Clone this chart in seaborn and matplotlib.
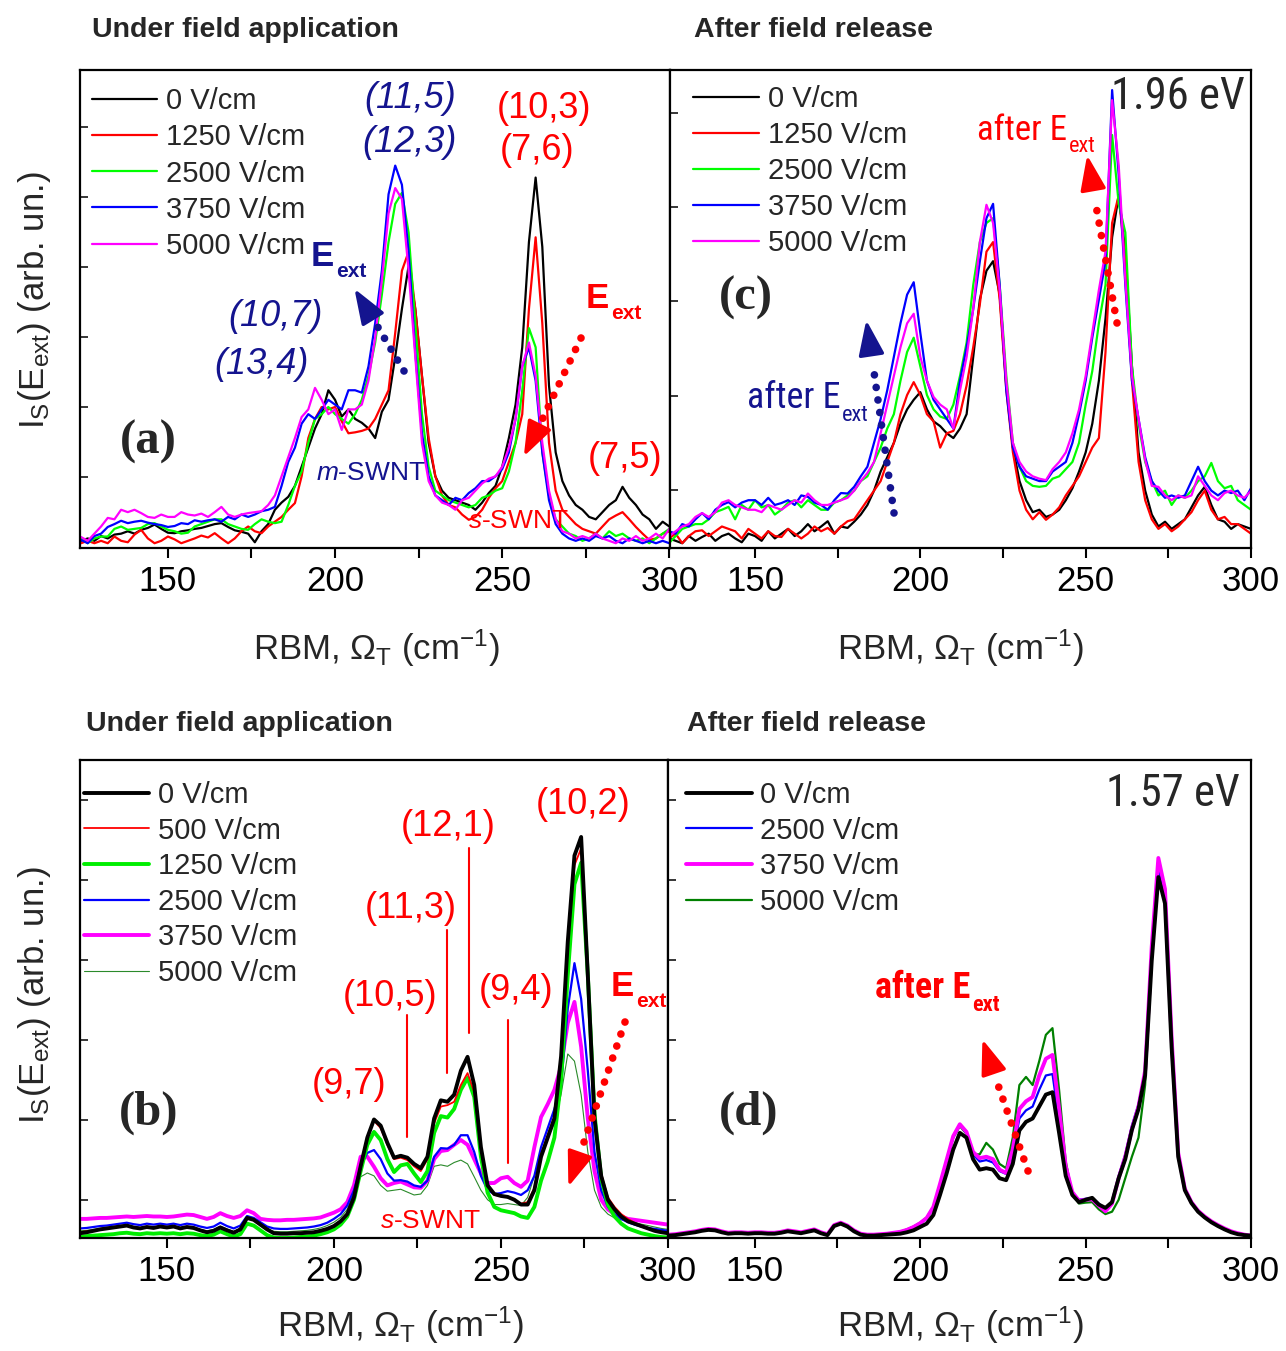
import os
import numpy as np
import pandas as pd
import matplotlib
matplotlib.use("Agg")
import matplotlib.pyplot as plt
import seaborn as sns
from matplotlib.lines import Line2D
from matplotlib.patches import Polygon
from matplotlib import font_manager as fm

# ---------------- data ----------------
X = np.arange(124, 301, 2)  # Raman shift sampling (cm^-1)

# (a) under field, 1.96 eV
A_0 = [1.5, 2.0, 1.5, 2.5, 2.0, 2.8, 3.0, 3.5, 3.0, 3.8, 4.2, 4.9, 4.0, 3.2, 3.1, 3.5, 3.7, 4.0, 4.2, 4.6,
       5.0, 5.2, 4.4, 3.7, 3.4, 3.0, 1.2, 3.5, 5.0, 8.0, 9.5, 10.7, 13.0, 17.0, 21.0, 25.0, 28.0, 33.0, 31.0, 27.5,
       29.0, 27.0, 26.2, 25.0, 23.0, 28.5, 31.0, 40.0, 50.0, 59.0, 50.0, 36.0, 22.0, 15.0, 12.0, 10.5, 10.0, 9.5, 9.0, 8.0,
       9.5, 11.5, 13.0, 17.0, 23.0, 30.0, 42.0, 64.0, 77.5, 63.0, 34.0, 20.0, 14.0, 11.0, 9.0, 8.0, 6.5, 6.0, 7.5, 9.0,
       10.0, 12.8, 10.5, 9.0, 7.0, 6.0, 4.0, 5.5, 4.5]
A_1250 = [1.0, 1.5, 1.0, 1.5, 1.0, 2.4, 1.5, 1.2, 2.8, 3.8, 2.0, 1.0, 1.5, 2.4, 1.8, 1.0, 1.5, 2.0, 2.6, 2.2,
          3.1, 2.0, 1.0, 2.0, 3.5, 4.5, 3.5, 3.1, 4.5, 5.5, 6.5, 8.0, 9.4, 15.0, 23.0, 27.0, 29.5, 29.0, 29.5, 26.5,
          24.0, 24.2, 24.5, 25.0, 27.0, 30.0, 33.0, 45.0, 58.0, 62.0, 50.0, 36.0, 23.0, 15.0, 11.0, 9.0, 8.5, 7.0, 5.9, 6.5,
          8.0, 10.5, 12.5, 14.0, 18.0, 22.0, 28.0, 50.0, 65.0, 47.0, 22.0, 12.0, 8.0, 6.5, 5.0, 4.0, 3.5, 3.0, 4.5, 6.0,
          6.8, 7.5, 6.0, 4.4, 3.0, 1.7, 2.0, 3.0, 3.5]
A_2500 = [2.0, 1.0, 2.0, 2.4, 2.4, 4.0, 4.5, 3.8, 4.0, 4.2, 5.0, 5.2, 4.5, 3.8, 3.5, 3.0, 3.2, 4.5, 5.0, 5.5,
          6.0, 6.0, 5.0, 4.5, 4.0, 3.8, 5.0, 6.0, 5.5, 5.2, 5.5, 9.0, 13.0, 16.0, 22.0, 27.0, 28.0, 29.5, 28.0, 27.0,
          26.0, 28.0, 31.0, 36.0, 43.0, 53.0, 64.0, 72.0, 74.3, 66.0, 47.0, 28.0, 17.0, 12.0, 11.0, 10.0, 9.5, 9.0, 8.5, 9.0,
          10.5, 11.0, 12.0, 12.5, 16.0, 22.0, 33.0, 46.0, 42.0, 20.0, 11.0, 6.0, 4.5, 3.0, 2.5, 1.5, 2.0, 3.0, 2.0, 3.5,
          2.5, 3.0, 2.0, 1.5, 2.0, 1.0, 2.0, 3.0, 4.0]
A_3750 = [1.7, 1.0, 2.5, 3.0, 4.4, 5.0, 5.7, 5.2, 5.5, 5.7, 5.3, 5.0, 4.8, 4.4, 4.6, 5.2, 5.0, 5.8, 5.5, 5.8,
          6.0, 5.5, 6.5, 6.0, 7.0, 6.5, 7.0, 7.7, 8.0, 8.6, 13.0, 18.0, 21.0, 26.0, 28.0, 27.0, 29.0, 31.0, 30.0, 29.0,
          33.0, 33.0, 32.5, 38.0, 47.0, 58.0, 74.0, 80.0, 76.0, 62.0, 41.0, 24.0, 15.0, 11.0, 10.0, 9.0, 10.5, 10.0, 11.5, 12.5,
          14.0, 14.0, 15.0, 16.5, 20.0, 27.0, 38.0, 42.0, 35.0, 20.0, 10.0, 5.0, 3.0, 2.0, 1.5, 2.0, 1.5, 2.5, 2.0, 2.5,
          1.5, 1.0, 2.0, 1.5, 1.0, 1.5, 1.0, 1.5, 1.0]
A_5000 = [2.3, 1.5, 3.0, 4.5, 6.3, 6.0, 8.0, 7.5, 8.0, 7.3, 6.5, 6.3, 7.0, 6.5, 6.5, 7.5, 7.0, 6.8, 7.2, 6.5,
          7.5, 8.6, 7.0, 6.5, 7.0, 7.3, 7.5, 7.7, 9.0, 11.0, 15.0, 19.0, 23.0, 27.4, 29.0, 33.5, 31.0, 28.0, 29.0, 24.7,
          29.0, 29.0, 30.0, 35.0, 44.0, 56.0, 70.0, 75.3, 73.0, 58.0, 40.0, 22.0, 14.0, 11.0, 9.5, 9.0, 8.0, 10.0, 10.5, 12.0,
          13.5, 14.5, 15.0, 17.0, 21.0, 27.0, 38.0, 43.0, 36.0, 22.0, 12.0, 6.0, 3.5, 3.0, 2.0, 2.5, 2.0, 3.0, 2.0, 1.5,
          1.0, 2.0, 1.5, 2.5, 1.5, 2.0, 3.0, 2.0, 4.0]

# (c) after field release, 1.96 eV
C_0 = [2.0, 1.5, 1.0, 2.5, 1.5, 2.3, 3.0, 1.5, 2.5, 3.0, 2.0, 1.2, 3.0, 2.5, 1.5, 3.5, 2.0, 3.0, 4.0, 2.5,
       3.5, 5.0, 3.5, 4.5, 5.6, 3.0, 4.5, 4.2, 5.5, 7.0, 9.0, 12.0, 16.0, 19.0, 22.0, 26.0, 29.0, 31.0, 32.6, 29.0,
       26.5, 25.5, 24.0, 23.0, 25.0, 28.0, 40.0, 52.0, 58.0, 60.0, 53.0, 34.0, 21.0, 14.0, 10.0, 7.5, 8.0, 6.5, 7.0, 8.0,
       10.0, 12.5, 16.0, 20.0, 26.0, 35.0, 48.0, 65.0, 73.8, 62.0, 38.0, 20.0, 12.0, 7.0, 4.5, 5.5, 4.0, 5.0, 6.0, 8.5,
       11.0, 12.8, 9.0, 6.0, 5.5, 4.0, 5.0, 4.5, 4.0]
C_1250 = [2.0, 3.0, 1.0, 2.5, 3.5, 3.7, 2.5, 3.5, 4.5, 4.0, 3.5, 2.0, 4.0, 3.0, 2.0, 3.5, 2.5, 2.3, 4.0, 3.0,
          2.0, 3.0, 4.5, 3.5, 4.2, 3.0, 4.5, 5.6, 6.0, 8.0, 10.0, 12.0, 14.0, 18.0, 22.0, 28.0, 32.0, 34.7, 32.0, 28.0,
          26.5, 21.0, 24.0, 24.5, 28.0, 34.0, 42.0, 51.0, 62.0, 64.0, 52.0, 33.0, 20.0, 12.0, 8.0, 6.0, 7.5, 5.9, 7.0, 8.5,
          11.0, 13.0, 15.0, 18.0, 21.0, 23.0, 41.0, 68.0, 73.8, 60.0, 35.0, 18.0, 10.0, 6.0, 4.0, 5.0, 3.5, 4.5, 6.0, 7.5,
          10.0, 12.0, 8.0, 6.0, 6.5, 5.0, 5.0, 4.0, 3.0]
C_2500 = [1.0, 2.5, 4.0, 4.5, 5.0, 5.0, 6.0, 7.5, 8.0, 8.6, 6.0, 9.0, 8.0, 10.0, 8.5, 9.0, 7.0, 8.0, 9.5, 10.0,
          8.5, 10.0, 9.0, 8.0, 8.0, 9.5, 10.0, 11.0, 12.0, 14.0, 15.0, 18.0, 21.0, 25.0, 28.0, 35.0, 41.0, 44.0, 38.0, 32.0,
          29.0, 27.5, 27.0, 30.0, 36.0, 43.0, 55.0, 64.0, 68.0, 69.0, 55.0, 36.0, 22.0, 17.0, 14.0, 13.0, 12.8, 13.0, 14.5, 15.0,
          16.5, 18.0, 22.0, 30.0, 37.0, 47.0, 55.0, 86.4, 72.0, 66.0, 38.0, 26.0, 18.0, 14.0, 11.0, 12.0, 9.0, 11.0, 10.5, 12.0,
          14.0, 15.0, 17.8, 14.0, 12.5, 13.0, 10.0, 9.0, 8.0]
C_3750 = [3.5, 3.0, 5.0, 4.5, 6.0, 7.3, 6.0, 8.0, 9.0, 9.6, 8.5, 9.5, 10.0, 10.0, 9.0, 10.5, 9.0, 9.4, 10.0, 9.0,
          11.0, 10.7, 9.5, 9.0, 8.0, 10.0, 11.5, 11.4, 12.8, 15.0, 17.0, 22.0, 27.0, 33.0, 40.0, 47.0, 53.0, 55.6, 45.0, 35.0,
          31.0, 29.0, 27.0, 25.0, 35.0, 42.0, 50.0, 60.0, 69.0, 72.0, 55.0, 33.0, 21.0, 17.0, 15.0, 14.5, 14.0, 14.0, 16.0, 17.0,
          18.0, 22.0, 28.0, 35.0, 44.0, 52.0, 60.0, 95.8, 78.0, 55.0, 35.0, 27.0, 19.0, 14.0, 12.0, 10.5, 11.0, 10.5, 11.0, 14.0,
          17.0, 14.0, 12.0, 11.0, 12.0, 11.5, 12.0, 10.0, 12.5]
C_5000 = [2.5, 3.5, 4.5, 5.0, 6.5, 7.3, 6.5, 7.5, 9.5, 10.0, 9.0, 8.5, 8.0, 8.0, 7.5, 9.0, 8.5, 8.0, 9.0, 10.0,
          9.5, 11.4, 10.0, 9.0, 9.0, 9.5, 10.0, 10.5, 12.0, 14.0, 15.7, 18.0, 24.0, 30.0, 36.0, 42.0, 47.0, 49.0, 40.0, 35.0,
          31.6, 30.0, 29.0, 25.0, 33.0, 40.0, 50.0, 64.0, 71.8, 68.0, 54.0, 35.0, 22.0, 18.0, 16.0, 15.0, 14.5, 14.2, 16.5, 18.0,
          20.0, 24.0, 29.0, 36.0, 45.0, 54.0, 62.0, 93.7, 80.0, 56.0, 36.0, 27.0, 18.4, 13.0, 12.8, 11.0, 10.0, 11.0, 10.5, 11.0,
          15.0, 13.0, 11.0, 10.0, 11.5, 12.0, 11.0, 10.5, 12.0]

# (b) under field, 1.57 eV
B_0 = [1.0, 1.2, 1.5, 1.8, 2.0, 2.2, 2.4, 2.6, 2.2, 2.0, 2.3, 2.1, 2.4, 2.2, 2.4, 2.0, 2.3, 2.1, 1.6, 1.2,
       1.5, 2.2, 1.6, 1.1, 1.8, 4.2, 3.8, 2.8, 1.8, 1.0, 0.9, 0.9, 1.0, 1.0, 1.1, 1.2, 1.5, 1.9, 2.5, 3.5,
       5.0, 8.5, 15.0, 21.0, 24.8, 23.5, 19.9, 16.8, 17.2, 16.8, 15.5, 14.6, 17.0, 25.0, 28.8, 28.5, 30.0, 35.0, 37.9, 32.0,
       19.0, 11.0, 9.2, 8.8, 8.6, 8.0, 7.0, 7.0, 10.0, 17.0, 21.0, 25.0, 38.0, 62.0, 80.0, 83.9, 55.0, 25.0, 13.0, 8.0,
       6.0, 4.5, 3.5, 3.0, 2.5, 2.0, 1.5, 1.2, 1.0]
B_500 = [1.2, 1.4, 1.6, 1.9, 2.1, 2.3, 2.5, 2.7, 2.3, 2.1, 2.4, 2.2, 2.5, 2.3, 2.5, 2.1, 2.4, 2.2, 1.7, 1.3,
         1.6, 2.3, 1.7, 1.2, 1.9, 4.3, 3.9, 2.9, 1.9, 1.1, 1.0, 1.0, 1.1, 1.1, 1.2, 1.3, 1.6, 2.0, 2.6, 3.6,
         5.1, 8.6, 15.0, 21.0, 24.5, 23.0, 19.5, 16.5, 16.8, 16.3, 15.0, 14.0, 16.5, 24.0, 27.5, 27.8, 28.5, 32.0, 34.5, 30.5,
         18.5, 10.8, 9.0, 8.8, 8.5, 8.0, 7.2, 7.5, 10.5, 17.5, 21.5, 25.5, 38.5, 61.0, 78.0, 81.5, 55.0, 26.0, 13.5, 8.5,
         6.5, 5.0, 4.0, 3.2, 2.6, 2.1, 1.6, 1.3, 1.1]
B_1250 = [0.3, 0.4, 0.5, 0.6, 0.7, 0.8, 1.0, 1.1, 0.9, 0.8, 1.0, 0.9, 1.0, 0.9, 1.0, 0.8, 1.0, 0.9, 0.6, 0.4,
          0.7, 1.4, 0.8, 0.3, 0.8, 3.0, 2.6, 1.6, 0.6, 0.1, 0.0, 0.0, 0.1, 0.2, 0.3, 0.5, 0.8, 1.2, 1.8, 2.8,
          4.5, 8.0, 14.0, 19.5, 22.2, 20.5, 16.5, 13.8, 15.2, 15.5, 13.5, 11.7, 14.0, 22.0, 25.5, 25.2, 27.0, 31.0, 33.5, 29.5,
          17.0, 9.5, 6.5, 5.8, 5.5, 5.2, 4.5, 4.2, 6.5, 12.0, 16.0, 21.0, 33.0, 55.0, 74.0, 78.5, 55.0, 26.0, 12.5, 7.0,
          4.5, 3.0, 2.0, 1.5, 1.0, 0.7, 0.4, 0.2, 0.1]
B_2500 = [2.0, 2.1, 2.3, 2.5, 2.6, 2.8, 3.0, 3.2, 2.9, 2.7, 3.0, 2.8, 3.0, 2.8, 3.0, 2.7, 3.0, 2.8, 2.4, 2.1,
          2.4, 3.2, 2.5, 2.0, 2.6, 4.6, 4.2, 3.3, 2.4, 2.0, 1.9, 1.9, 2.0, 2.1, 2.2, 2.4, 2.7, 3.2, 4.0, 5.0,
          6.8, 10.0, 15.0, 17.8, 18.4, 16.5, 13.5, 12.0, 12.1, 11.8, 11.0, 10.7, 12.0, 17.0, 18.8, 18.7, 19.5, 21.5, 21.5, 18.0,
          13.0, 10.0, 9.2, 9.4, 9.8, 9.5, 9.0, 10.0, 13.0, 19.0, 23.0, 27.0, 32.0, 48.0, 57.5, 50.0, 35.0, 18.0, 10.0, 6.5,
          5.0, 4.0, 3.3, 2.8, 2.4, 2.1, 1.9, 1.7, 1.5]
B_3750 = [4.0, 4.0, 4.1, 4.2, 4.2, 4.3, 4.4, 4.5, 4.4, 4.5, 4.6, 4.5, 4.5, 4.4, 4.5, 4.7, 4.9, 4.8, 4.4, 4.0,
          4.4, 5.2, 4.6, 4.2, 4.6, 5.8, 5.2, 4.0, 3.8, 3.7, 3.7, 3.8, 3.8, 3.9, 4.0, 4.1, 4.3, 4.8, 5.3, 6.0,
          7.5, 11.0, 17.0, 17.0, 14.9, 12.5, 11.0, 11.5, 11.8, 11.2, 10.6, 10.5, 12.0, 16.5, 18.2, 18.4, 19.5, 20.5, 19.5, 16.5,
          13.5, 11.5, 11.5, 12.5, 12.8, 11.5, 10.7, 12.0, 19.0, 25.3, 28.0, 31.0, 36.0, 45.0, 49.4, 40.0, 25.0, 14.0, 8.0, 6.0,
          5.0, 4.5, 4.0, 3.8, 3.6, 3.4, 3.2, 3.0, 2.8]
B_5000 = [1.5, 1.6, 1.8, 2.0, 2.2, 2.3, 2.5, 2.6, 2.4, 2.2, 2.4, 2.3, 2.5, 2.3, 2.5, 2.2, 2.4, 2.3, 1.8, 1.5,
          1.8, 2.5, 1.9, 1.4, 2.0, 4.2, 3.8, 2.8, 1.9, 1.4, 1.3, 1.3, 1.4, 1.5, 1.6, 1.8, 2.1, 2.6, 3.3, 4.3,
          6.0, 9.5, 12.8, 13.6, 13.0, 11.0, 9.8, 10.0, 10.2, 9.6, 9.0, 9.2, 11.0, 15.0, 15.3, 15.0, 15.8, 16.3, 15.5, 12.8,
          10.0, 8.0, 7.0, 7.0, 7.2, 7.0, 6.8, 8.5, 13.0, 18.0, 21.0, 24.0, 30.0, 38.5, 37.0, 30.0, 18.0, 10.0, 6.5, 5.0,
          4.2, 3.8, 3.5, 3.2, 2.9, 2.6, 2.3, 2.0, 1.8]

# (d) after field release, 1.57 eV
D_0 = [0.5, 0.6, 0.8, 1.0, 1.2, 1.5, 1.7, 1.6, 1.2, 0.9, 1.0, 1.0, 0.9, 1.0, 1.0, 0.9, 0.9, 1.1, 1.4, 1.2,
       1.0, 1.3, 1.6, 1.0, 0.6, 2.5, 3.0, 2.4, 1.4, 0.7, 0.5, 0.5, 0.6, 0.7, 0.8, 0.9, 1.2, 1.6, 2.3, 3.0,
       4.8, 9.0, 13.5, 18.5, 22.0, 21.0, 16.5, 14.3, 14.6, 14.3, 12.5, 12.1, 15.5, 22.5, 24.3, 25.0, 27.5, 30.0, 30.5, 22.0,
       13.0, 9.0, 7.5, 8.0, 8.4, 7.0, 6.3, 7.5, 12.5, 16.5, 22.6, 27.0, 34.0, 58.0, 75.5, 70.0, 40.0, 17.0, 10.0, 7.3,
       5.5, 4.3, 3.3, 2.5, 1.8, 1.2, 0.8, 0.6, 0.5]
D_2500 = [0.6, 0.7, 0.9, 1.1, 1.3, 1.6, 1.8, 1.7, 1.3, 1.0, 1.1, 1.1, 1.0, 1.1, 1.1, 1.0, 1.0, 1.2, 1.5, 1.3,
          1.1, 1.4, 1.7, 1.1, 0.7, 2.6, 3.1, 2.5, 1.5, 0.8, 0.6, 0.6, 0.7, 0.8, 1.0, 1.2, 1.6, 2.2, 3.0, 4.0,
          6.3, 11.0, 16.0, 21.0, 23.6, 22.0, 17.5, 16.0, 16.3, 15.8, 14.0, 13.4, 17.5, 25.0, 26.7, 27.5, 31.0, 34.0, 34.3, 24.5,
          14.0, 9.5, 8.0, 8.2, 8.4, 7.2, 6.0, 7.6, 13.0, 17.5, 23.5, 28.0, 35.0, 60.0, 77.5, 72.0, 41.0, 17.5, 10.2, 7.4,
          5.6, 4.4, 3.4, 2.6, 1.9, 1.3, 0.9, 0.7, 0.5]
D_3750 = [0.7, 0.8, 1.0, 1.2, 1.4, 1.7, 1.9, 1.8, 1.4, 1.1, 1.2, 1.2, 1.1, 1.2, 1.2, 1.1, 1.1, 1.3, 1.6, 1.4,
          1.2, 1.5, 1.8, 1.2, 0.8, 2.7, 3.2, 2.6, 1.6, 0.9, 0.7, 0.7, 0.8, 0.9, 1.1, 1.3, 1.7, 2.3, 3.1, 4.2,
          6.5, 11.3, 16.3, 21.3, 23.8, 22.2, 18.0, 16.7, 17.0, 16.5, 14.3, 13.6, 18.5, 27.0, 28.6, 29.5, 34.0, 37.5, 38.3, 27.0,
          15.0, 9.6, 7.8, 8.0, 8.1, 6.8, 5.6, 7.2, 12.5, 17.0, 22.8, 27.5, 35.0, 61.0, 79.5, 73.0, 42.0, 17.8, 10.3, 7.5,
          5.7, 4.5, 3.5, 2.7, 2.0, 1.4, 1.0, 0.7, 0.5]
D_5000 = [0.6, 0.7, 0.9, 1.1, 1.3, 1.6, 1.8, 1.7, 1.3, 1.0, 1.1, 1.1, 1.0, 1.1, 1.1, 1.0, 1.0, 1.2, 1.5, 1.3,
          1.1, 1.4, 1.7, 1.1, 0.7, 2.6, 3.1, 2.5, 1.5, 0.8, 0.6, 0.6, 0.7, 0.8, 1.0, 1.3, 1.8, 2.4, 3.2, 4.3,
          6.5, 11.0, 16.0, 21.0, 23.4, 21.8, 17.5, 17.5, 19.9, 18.5, 15.5, 14.6, 21.0, 32.0, 33.7, 32.0, 37.0, 42.5, 43.9, 31.0,
          16.0, 9.2, 7.2, 7.4, 7.5, 6.0, 5.0, 5.5, 8.0, 12.5, 17.0, 21.0, 32.0, 58.0, 77.0, 71.0, 41.0, 17.5, 10.2, 7.4,
          5.6, 4.4, 3.4, 2.6, 1.9, 1.3, 0.9, 0.7, 0.5]

LABELS_A = ["0 V/cm", "1250 V/cm", "2500 V/cm", "3750 V/cm", "5000 V/cm"]
LABELS_B = ["0 V/cm", "500 V/cm", "1250 V/cm", "2500 V/cm", "3750 V/cm", "5000 V/cm"]
LABELS_D = ["0 V/cm", "2500 V/cm", "3750 V/cm", "5000 V/cm"]
XTICKS = [150, 200, 250, 300]
XMINOR = [175, 225, 275]
# assignment marker lines in (b): (shift, y_low, y_high)
ASSIGN_LINES_B = [(221.9, 21.1, 46.7), (233.8, 34.5, 64.4), (240.4, 42.9, 81.6), (252.2, 15.7, 45.6)]

for arr in [A_0, A_1250, A_2500, A_3750, A_5000, C_0, C_1250, C_2500, C_3750, C_5000,
            B_0, B_500, B_1250, B_2500, B_3750, B_5000, D_0, D_2500, D_3750, D_5000]:
    assert len(arr) == len(X), len(arr)

# ---------------- style ----------------
W, H = 1286, 1351
sns.set_theme(style="white")
plt.rcParams["font.family"] = ["Liberation Sans", "DejaVu Sans"]
plt.rcParams["mathtext.fontset"] = "custom"
plt.rcParams["mathtext.rm"] = "Liberation Sans"
plt.rcParams["mathtext.it"] = "Liberation Sans:italic"
plt.rcParams["mathtext.bf"] = "Liberation Sans:bold"
plt.rcParams["mathtext.sf"] = "Liberation Sans"
SERIF = ["Liberation Serif", "DejaVu Serif"]
NAVY = "#14148f"
RED = "#ff0000"


def _wt(f):
    w = f.weight
    if isinstance(w, str):
        w = fm.weight_dict.get(w, 400)
    return w


def find_narrow(bold=False):
    """Locate a condensed sans font (Arial-Narrow-like) if one is installed."""
    prefs = ["liberationsansnarrow", "robotocondensed", "dejavusanscondensed",
             "notosanscondensed", "opensanscondensed", "condensed", "narrow"]
    best, best_rank = None, 99
    for f in fm.fontManager.ttflist:
        base = os.path.basename(f.fname).lower().replace("-", "").replace("_", "")
        nm = f.name.lower().replace(" ", "")
        st = str(f.stretch).lower()
        cond = ("narrow" in base or "condensed" in base or "narrow" in nm or "condensed" in nm
                or st in ("condensed", "semi-condensed", "extra-condensed"))
        if not cond or "extracondensed" in base or "semicondensed" in base:
            continue
        if f.style != "normal" or "italic" in base or "oblique" in base:
            continue
        if bold != (_wt(f) >= 600):
            continue
        if not bold and _wt(f) < 350:
            continue
        key = base + nm
        rank = next((i for i, p in enumerate(prefs) if p in key), 98)
        if rank < best_rank:
            best, best_rank = f.fname, rank
    return best


NARROW_R = find_narrow(False)
NARROW_B = find_narrow(True) or NARROW_R


def narrow_fp(size, bold=False):
    path = NARROW_B if bold else NARROW_R
    if path:
        return fm.FontProperties(fname=path, size=size)
    # no condensed face available: plain sans, slightly smaller to keep width
    return fm.FontProperties(family=["Liberation Sans", "DejaVu Sans"], size=size * 0.84,
                             weight="bold" if bold else "normal")


fig = plt.figure(figsize=(W / 100, H / 100), dpi=100)


def add_ax(l, t, r, b):
    return fig.add_axes([l / W, 1 - b / H, (r - l) / W, (b - t) / H])


def ftext(px, py, s, **kw):
    kw.setdefault("va", "center")
    return fig.text(px / W, 1 - py / H, s, **kw)


def sub_after(ax, main, s, color, fp=None, **kw):
    """Subscript placed right after the main text artist."""
    if fp is not None:
        kw["fontproperties"] = fp
    ax.annotate(s, xy=(1.0, 0.02), xycoords=main, xytext=(1, 0), textcoords="offset points",
                ha="left", va="center", color=color, annotation_clip=False, **kw)


def dotted_arrow(start, end, tip, color, head_len=30, head_w=11):
    fx = lambda p: (p[0] / W, 1 - p[1] / H)
    a, b = fx(start), fx(end)
    fig.add_artist(Line2D([a[0], b[0]], [a[1], b[1]], transform=fig.transFigure, color=color,
                          lw=5.5, linestyle=(0, (0.01, 1.65)), dash_capstyle="round"))
    d = np.array(tip, float) - np.array(end, float)
    u = d / np.hypot(*d)
    base = np.array(tip, float) - head_len * u
    nrm = np.array([-u[1], u[0]])
    pts = [tip, base + head_w * nrm, base - head_w * nrm]
    fig.add_artist(Polygon([fx(p) for p in pts], closed=True, transform=fig.transFigure,
                           facecolor=color, edgecolor=color, lw=2.5, joinstyle="round"))


def draw_panel(ax, labels, arrays, colors, widths, order, xlim, yticks, leg_anchor, leg_spacing):
    df = pd.concat([pd.DataFrame({"shift": X, "intensity": arr, "field": lab})
                    for lab, arr in zip(labels, arrays)], ignore_index=True)
    for i in order:
        sns.lineplot(data=df[df["field"] == labels[i]], x="shift", y="intensity", ax=ax,
                     color=colors[i], linewidth=widths[i], label=labels[i],
                     estimator=None, sort=False)
    ax.set_xlim(*xlim)
    ax.set_ylim(0, 100)
    ax.set_xticks(XTICKS)
    ax.set_xticks(XMINOR, minor=True)
    ax.set_yticks(yticks)
    ax.tick_params(axis="x", which="both", direction="out", length=7.5, width=1.5,
                   bottom=True, labelsize=25, pad=5, colors="black")
    ax.tick_params(axis="y", which="both", direction="in", length=6, width=1.3,
                   left=True, labelleft=False)
    for sp in ax.spines.values():
        sp.set_visible(True)
        sp.set_color("black")
        sp.set_linewidth(1.6)
    h, l = ax.get_legend_handles_labels()
    m = dict(zip(l, h))
    ax.legend([m[k] for k in labels], labels, loc="upper left", bbox_to_anchor=leg_anchor,
              frameon=False, fontsize=21, handlelength=2.25, handletextpad=0.3,
              labelspacing=leg_spacing, borderpad=0, borderaxespad=0)
    ax.set_xlabel(r"RBM, $\Omega_\mathrm{T}$ (cm$^{-1}$)", fontsize=25)
    ax.set_ylabel("")


axA = add_ax(80, 70, 670, 548)
axC = add_ax(670, 70, 1251, 548)
axB = add_ax(80, 760, 668, 1238)
axD = add_ax(668, 760, 1251, 1238)

colsA = ["black", "#ff0000", "#00ff00", "#0000ff", "#ff00ff"]
draw_panel(axA, LABELS_A, [A_0, A_1250, A_2500, A_3750, A_5000], colsA, [1.6] * 5, range(5),
           (123.7, 300.2), np.arange(14.9, 100, 14.65), (0.02, 0.964), 0.28)
draw_panel(axC, LABELS_A, [C_0, C_1250, C_2500, C_3750, C_5000], colsA, [1.6] * 5, range(5),
           (124.3, 300.0), np.arange(12.1, 100, 19.75), (0.04, 0.969), 0.28)
colsB = ["black", "#ff0000", "#00ee00", "#0000ff", "#ff00ff", "#2b8a2b"]
draw_panel(axB, LABELS_B, [B_0, B_500, B_1250, B_2500, B_3750, B_5000], colsB,
           [2.8, 1.3, 2.8, 1.6, 2.8, 0.8], [5, 4, 3, 2, 1, 0],
           (124.0, 300.0), np.arange(7.9, 100, 16.74), (0.006, 0.956), 0.26)
colsD = ["black", "#0000ff", "#ff00ff", "#008000"]
draw_panel(axD, LABELS_D, [D_0, D_2500, D_3750, D_5000], colsD,
           [2.8, 1.6, 2.8, 1.6], [3, 1, 2, 0],
           (123.8, 300.0), np.arange(7.9, 100, 16.74), (0.031, 0.956), 0.26)

# axis labels
for ax, (lx, ly) in [(axA, (0.502, -0.21)), (axC, (0.5, -0.21)), (axB, (0.544, -0.183)), (axD, (0.502, -0.183))]:
    ax.xaxis.label.set_va("center")
    ax.xaxis.set_label_coords(lx, ly)
ylab = r"I$_\mathrm{S}$(E$_\mathrm{ext}$) (arb. un.)"
ftext(35, 300, ylab, fontsize=25, rotation=90, ha="center")
ftext(35, 995, ylab, fontsize=25, rotation=90, ha="center")

# titles
ftext(92, 30, "Under field application", fontsize=20.5, fontweight="bold")
ftext(694, 30, "After field release", fontsize=20.5, fontweight="bold")
ftext(86, 724, "Under field application", fontsize=20.5, fontweight="bold")
ftext(687, 724, "After field release", fontsize=20.5, fontweight="bold")

# panel letters
for px, py, s in [(148, 442, "(a)"), (746, 298, "(c)"), (149, 1113, "(b)"), (749, 1113, "(d)")]:
    ftext(px, py, s, fontsize=35, fontweight="bold", family=SERIF, ha="center")

# ---- (a) annotations
ftext(410, 99, "(11,5)", fontsize=26, style="italic", color=NAVY, ha="center")
ftext(410, 142, "(12,3)", fontsize=26, style="italic", color=NAVY, ha="center")
ftext(276, 316, "(10,7)", fontsize=26, style="italic", color=NAVY, ha="center")
ftext(261, 364, "(13,4)", fontsize=26, style="italic", color=NAVY, ha="center")
ftext(544, 109, "(10,3)", fontsize=26, color=RED, ha="center")
ftext(537, 151, "(7,6)", fontsize=26, color=RED, ha="center")
ftext(625, 459, "(7,5)", fontsize=26, color=RED, ha="center")
t = ftext(311, 256, "E", fontsize=25, fontweight="bold", color=NAVY)
sub_after(axA, t, "ext", NAVY, fontsize=15, fontweight="bold")
t = ftext(586, 298, "E", fontsize=25, fontweight="bold", color=RED)
sub_after(axA, t, "ext", RED, fontsize=15, fontweight="bold")
ftext(316, 473, r"$\mathit{m}$-SWNT", fontsize=19, color=NAVY)
ftext(468, 521, r"$\mathit{s}$-SWNT", fontsize=19, color=RED)
dotted_arrow((404, 371), (376, 324), (357, 293), NAVY)
dotted_arrow((581, 338), (542, 420), (526, 452), RED)

# ---- (c) annotations
ftext(1245, 97, "1.96 eV", fontproperties=narrow_fp(32), ha="right")
t = ftext(977, 131, "after E", fontproperties=narrow_fp(25), color=RED)
sub_after(axC, t, "ext", RED, fp=narrow_fp(16))
t = ftext(747, 398, "after E", fontproperties=narrow_fp(26), color=NAVY)
sub_after(axC, t, "ext", NAVY, fp=narrow_fp(16))
dotted_arrow((1117, 323), (1095, 200), (1088, 160), RED)
dotted_arrow((894, 513), (873, 365), (867, 325), NAVY)

# ---- (b) annotations
for px, py, s in [(583, 804, "(10,2)"), (448, 827, "(12,1)"), (411, 908, "(11,3)"),
                  (390, 997, "(10,5)"), (516, 991, "(9,4)"), (349, 1084, "(9,7)")]:
    ftext(px, py, s, fontsize=26, color=RED, ha="center")
t = ftext(611, 986, "E", fontsize=25, fontweight="bold", color=RED)
sub_after(axB, t, "ext", RED, fontsize=15, fontweight="bold")
ftext(380, 1221, r"$\mathit{s}$-SWNT", fontsize=19, color=RED)
for xs, y0, y1 in ASSIGN_LINES_B:
    axB.plot([xs, xs], [y0, y1], color=RED, lw=1.5)
dotted_arrow((625, 1022), (584, 1142), (570, 1182), RED)

# ---- (d) annotations
ftext(1240, 794, "1.57 eV", fontproperties=narrow_fp(32), ha="right")
t = ftext(875, 988, "after E", fontproperties=narrow_fp(26, bold=True), color=RED)
sub_after(axD, t, "ext", RED, fp=narrow_fp(16, bold=True))
dotted_arrow((1028, 1171), (997, 1082), (984, 1044), RED)

fig.savefig("out.png", dpi=100)
